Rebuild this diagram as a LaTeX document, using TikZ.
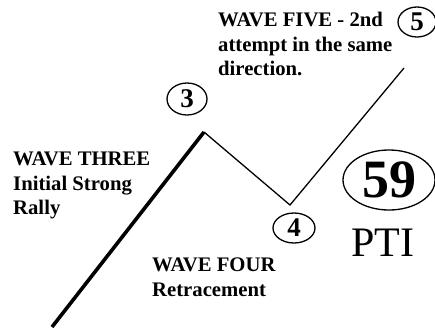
\documentclass[tikz,border=0pt]{standalone}
\usepackage{fontspec}
\setmainfont{Liberation Serif}
\usetikzlibrary{shapes.geometric}
\tikzset{
  wavetext/.style={anchor=north west,inner sep=0pt,align=left,
    font=\bfseries\fontsize{20.7}{24.5}\selectfont},
  wavemark/.style={draw,ellipse,line width=1.3pt,inner sep=0pt,
    font=\bfseries\fontsize{27}{27}\selectfont}
}

\begin{document}
\begin{tikzpicture}[x=1pt,y=-1pt]
  \useasboundingbox[fill=white] (0,0) rectangle (435,330);
  \coordinate (w2) at (52,327);
  \coordinate (w3) at (204,132);
  \coordinate (w4) at (290,205);
  \coordinate (w5) at (404,68);
  \draw[line width=3.6pt] (w2)--(w3);
  \draw[line width=1.3pt] (w3)--(w4)--(w5);
  \node[wavemark,minimum width=40pt,minimum height=32pt] (m3) at (187,99) {3};
  \node[wavemark,minimum width=42pt,minimum height=30pt] (m4) at (294,228) {4};
  \node[wavemark,minimum width=38pt,minimum height=30pt] (m5) at (417,22) {5};
  \node[wavetext] (three) at (13,152) {WAVE THREE\\Initial Strong\\Rally};
  \node[wavetext] (four) at (152,258) {WAVE FOUR\\Retracement};
  \node[wavetext] (five) at (218,12) {WAVE FIVE - 2nd\\attempt in the same\\direction.};
  \node[draw,ellipse,line width=1.3pt,minimum width=92pt,minimum height=60pt,
    inner sep=0pt,font=\bfseries\fontsize{54}{54}\selectfont] (pti) at (389,180) {59};
  \node[anchor=base,inner sep=0pt,font=\fontsize{42}{42}\selectfont] (name) at (383,256) {PTI};
\end{tikzpicture}
\end{document}
